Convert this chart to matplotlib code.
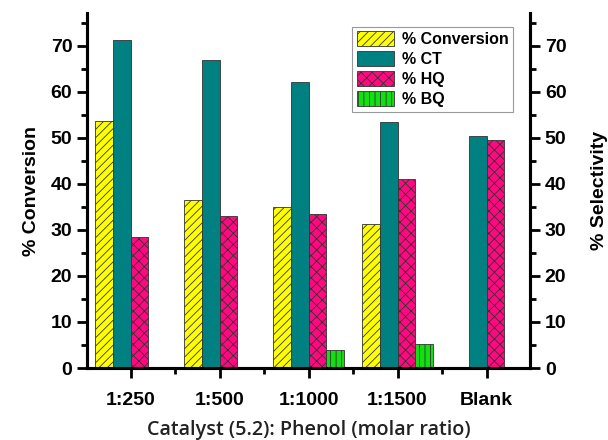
import matplotlib
matplotlib.use("Agg")
import matplotlib.pyplot as plt
from matplotlib.ticker import FixedLocator
import numpy as np

categories = ["1:250", "1:500", "1:1000", "1:1500", "Blank"]
conversion = [53.6, 36.4, 34.9, 31.2, 0.3]
ct = [71.3, 66.9, 62.0, 53.5, 50.3]
hq = [28.4, 32.9, 33.5, 41.0, 49.5]
bq = [0.0, 0.0, 4.0, 5.2, 0.0]
series_labels = ["% Conversion", "% CT", "% HQ", "% BQ"]

plt.rcParams["font.family"] = ["Liberation Sans", "DejaVu Sans"]
plt.rcParams["hatch.linewidth"] = 0.6
plt.rcParams["hatch.color"] = "#222222"

fig = plt.figure(figsize=(6.08, 4.40), dpi=100)
ax = fig.add_axes([0.143, 0.1636, 0.729, 0.806])
ax2 = ax.twinx()

x = np.arange(len(categories))
w = 0.2
ec = "#333333"
b1 = ax.bar(x - 1.5 * w, conversion, w, color="#FFFF00", edgecolor=ec, linewidth=0.6,
            hatch="////", label=series_labels[0])
b2 = ax2.bar(x - 0.5 * w, ct, w, color="#008080", edgecolor=ec, linewidth=0.6,
             label=series_labels[1])
b3 = ax2.bar(x + 0.5 * w, hq, w, color="#FF0880", edgecolor=ec, linewidth=0.6,
             hatch="xxx", label=series_labels[2])
b4 = ax2.bar(x + 1.5 * w, bq, w, color="#11E011", edgecolor=ec, linewidth=0.6,
             hatch="|||", label=series_labels[3])

for a in (ax, ax2):
    a.set_ylim(0, 77)
    a.set_xlim(-0.49, 4.49)
    a.spines["top"].set_visible(False)
    for s in ("left", "right", "bottom"):
        a.spines[s].set_linewidth(2.2)
    a.yaxis.set_major_locator(FixedLocator([0, 10, 20, 30, 40, 50, 60, 70]))
    a.yaxis.set_minor_locator(FixedLocator([5, 15, 25, 35, 45, 55, 65, 75]))
    a.tick_params(axis="y", which="major", length=7, width=2, labelsize=14, direction="out")
    a.tick_params(axis="y", which="minor", length=4, width=2, direction="out")

ax.set_xticks(x)
ax.set_xticklabels(categories)
ax.xaxis.set_minor_locator(FixedLocator([0.5, 1.5, 2.5, 3.5]))
ax.tick_params(axis="x", which="major", length=7, width=2, labelsize=14, direction="out", pad=10)
ax.tick_params(axis="x", which="minor", length=4, width=2, direction="out")
for lab in ax.get_xticklabels() + ax.get_yticklabels() + ax2.get_yticklabels():
    lab.set_fontweight("bold")

ax.set_ylabel("% Conversion", fontsize=14, fontweight="bold", labelpad=8)
ax2.set_ylabel("% Selectivity", fontsize=14, fontweight="bold", labelpad=18)
ax.set_xlabel("Catalyst (5.2): Phenol (molar ratio)", fontsize=14.2, fontweight="semibold",
              family=["Open Sans", "DejaVu Sans"], color="#222222")
ax.xaxis.set_label_coords(0.5, -0.175)
ax.xaxis.label.set_verticalalignment("center")

leg = ax2.legend([b1, b2, b3, b4], series_labels, loc="upper left",
                 bbox_to_anchor=(0.58, 0.985), fancybox=False, framealpha=1,
                 edgecolor="#999999", prop={"weight": "bold", "size": 11.5},
                 handlelength=2.3, handleheight=1.05, labelspacing=0.25,
                 borderpad=0.3, handletextpad=0.5)
leg.get_frame().set_linewidth(0.8)

fig.savefig("out.png", dpi=100)
